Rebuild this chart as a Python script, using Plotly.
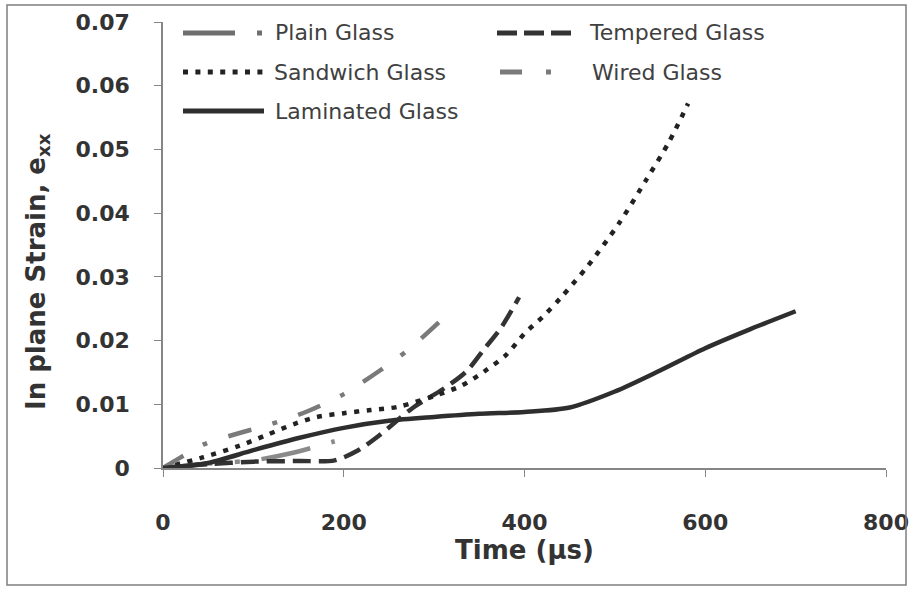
import plotly.graph_objects as go

# In-plane strain histories for five glazing types (time in microseconds)
plain_t = [0, 50, 100, 144, 190]
plain_e = [0, 0.0007, 0.0012, 0.0024, 0.0042]

tempered_t = [0, 50, 100, 150, 190, 215, 240, 277, 310, 336, 355, 374, 394]
tempered_e = [0, 0.0006, 0.0010, 0.0011, 0.0012, 0.0027, 0.0052, 0.0095, 0.0124, 0.0152, 0.0186, 0.0220, 0.0268]

sandwich_t = [0, 45, 85, 115, 145, 170, 200, 230, 260, 300, 330, 355, 380, 400, 420, 440, 470, 505, 535, 560, 581]
sandwich_e = [0, 0.0017, 0.0035, 0.0052, 0.0069, 0.0080, 0.0086, 0.0091, 0.0096, 0.0113, 0.0129, 0.0151,
              0.0178, 0.0211, 0.0237, 0.0267, 0.0317, 0.0385, 0.0453, 0.0512, 0.0572]

wired_t = [0, 20, 45, 80, 120, 160, 200, 240, 270, 310]
wired_e = [0, 0.0017, 0.0037, 0.0053, 0.0069, 0.0089, 0.0116, 0.0153, 0.0184, 0.0235]

laminated_t = [0, 50, 100, 150, 200, 250, 300, 350, 400, 450, 500, 550, 600, 650, 700]
laminated_e = [0, 0.0008, 0.0028, 0.0047, 0.0063, 0.0074, 0.0080, 0.0085, 0.0088, 0.0095, 0.0120,
               0.0153, 0.0188, 0.0218, 0.0246]

x_ticks = [0, 200, 400, 600, 800]

# name, t, e, colour, dash pattern
series = [
    ("Plain Glass", plain_t, plain_e, "#8a8a8a", "50px,22px,5px,22px"),
    ("Tempered Glass", tempered_t, tempered_e, "#333333", "18px,8px"),
    ("Sandwich Glass", sandwich_t, sandwich_e, "#222222", "5px,7.5px"),
    ("Wired Glass", wired_t, wired_e, "#7a7a7a", "24px,22px,5px,22px"),
    ("Laminated Glass", laminated_t, laminated_e, "#2e2e2e", "solid"),
]

W, H = 912, 590
L, R, T, B = 163, 26, 22, 122
PW, PH = W - L - R, H - T - B


def px(x):
    return (x - L) / PW


def py(y):
    return (H - B - y) / PH


fig = go.Figure()
for name, t, e, col, dash in series:
    fig.add_trace(go.Scatter(
        x=t, y=e, mode="lines", name=name, showlegend=False,
        line=dict(color=col, width=4.5, dash=dash, shape="spline", smoothing=0.8),
    ))

# Legend drawn as sample strokes plus labels, two columns
legend_items = [
    # name, colour, dash, x0, x1, y, text x
    ("Plain Glass", "#6f6f6f", "52px,22px,5px,30px", 183, 262, 33, 273),
    ("Sandwich Glass", "#222222", "5px,7.4px", 183, 265, 72, 272),
    ("Laminated Glass", "#2e2e2e", "solid", 183, 264, 111, 273),
    ("Tempered Glass", "#333333", "20px,7px", 497, 575, 33, 587),
    ("Wired Glass", "#7a7a7a", "22px,24px,5px,30px", 500, 551, 72, 590),
]
shapes = []
annotations = []
for name, col, dash, x0, x1, y, tx in legend_items:
    shapes.append(dict(type="line", xref="paper", yref="paper",
                       x0=px(x0), x1=px(x1), y0=py(y), y1=py(y),
                       line=dict(color=col, width=5, dash=dash)))
    annotations.append(dict(text=name, xref="paper", yref="paper", x=px(tx), y=py(y),
                            xanchor="left", yanchor="middle", showarrow=False,
                            font=dict(family="DejaVu Sans", size=22, color="#404040")))

# y-axis title
annotations.append(dict(text="In plane Strain, e<sub>xx</sub>", xref="paper", yref="paper",
                        x=px(37), y=py(272), xanchor="center", yanchor="middle",
                        textangle=-90, showarrow=False,
                        font=dict(family="DejaVu Sans", size=26, color="#333333", weight="bold")))

# chart frame
shapes.append(dict(type="rect", xref="paper", yref="paper",
                   x0=px(7), x1=px(906), y0=py(585), y1=py(5),
                   line=dict(color="#7f7f7f", width=1.5), fillcolor="rgba(0,0,0,0)"))

tick_font = dict(family="DejaVu Sans", size=22, color="#333333", weight="bold")
title_font = dict(family="DejaVu Sans", size=26, color="#333333", weight="bold")

fig.update_layout(
    width=W, height=H,
    margin=dict(l=L, r=R, t=T, b=B, autoexpand=False),
    paper_bgcolor="white", plot_bgcolor="white",
    font=dict(family="DejaVu Sans"),
    shapes=shapes, annotations=annotations,
    xaxis=dict(
        range=[0, 800], tickvals=x_ticks, ticks="outside", ticklen=7, tickcolor="#868686",
        showline=True, linecolor="#868686", linewidth=1.5, showgrid=False, zeroline=False,
        tickfont=tick_font, ticklabelstandoff=27, automargin=False,
        title=dict(text="Time (µs)", font=title_font, standoff=2),
    ),
    yaxis=dict(
        range=[0, 0.07], dtick=0.01, ticks="outside", ticklen=7, tickcolor="#868686",
        showline=True, linecolor="#868686", linewidth=1.5, showgrid=False, zeroline=False,
        tickfont=tick_font, ticklabelstandoff=20, automargin=False,
    ),
)

fig.write_html("out.html")
